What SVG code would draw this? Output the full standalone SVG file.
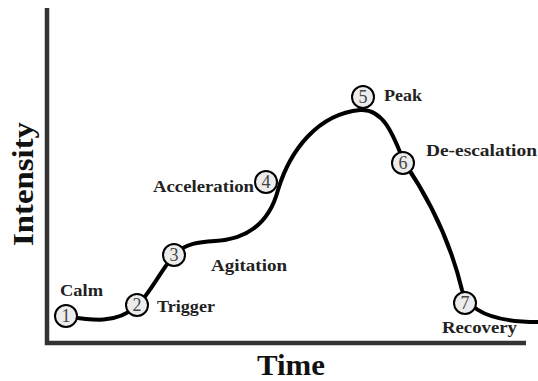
<svg xmlns="http://www.w3.org/2000/svg" width="538" height="381" viewBox="0 0 538 381">
<style>
.axis{stroke:#333;stroke-width:4.5;fill:none;stroke-linecap:butt}
.curve{stroke:#000;stroke-width:4;fill:none;stroke-linecap:round;stroke-linejoin:round}
.node circle{fill:#ececec;stroke:#000;stroke-width:2}
.num{font-family:"Liberation Serif",serif;font-size:18px;fill:#444;text-anchor:middle}
.lbl{font-family:"Liberation Serif",serif;font-weight:bold;font-size:17px;fill:#222}
.title{font-family:"Liberation Serif",serif;font-weight:bold;font-size:29px;fill:#111}
</style>
<rect width="538" height="381" fill="#fff"/>
<g id="axes">
<path class="axis" d="M47,8 V343 H526"/>
<text class="title" x="291" y="375" text-anchor="middle" textLength="68" lengthAdjust="spacingAndGlyphs">Time</text>
<text class="title" transform="translate(33,184) rotate(-90)" text-anchor="middle" textLength="124" lengthAdjust="spacingAndGlyphs">Intensity</text>
</g>
<g id="connectors">
<path class="curve" d="M66,316 C90,320 115,325 137,306 C150,293 160,272 174,255 C185,243 200,242 215,241 C250,239 270,220 278,190 C290,150 318,114 360,110 C385,108 395,140 404,162 C430,200 450,240 462,290 C468,310 490,322 538,322"/>
</g>
<g id="n1" class="node"><circle cx="66" cy="316" r="11"/><text class="num" x="66" y="322">1</text><text class="lbl" x="60" y="296" textLength="43" lengthAdjust="spacingAndGlyphs">Calm</text></g>
<g id="n2" class="node"><circle cx="137" cy="305" r="11"/><text class="num" x="137" y="311">2</text><text class="lbl" x="157" y="312" textLength="58" lengthAdjust="spacingAndGlyphs">Trigger</text></g>
<g id="n3" class="node"><circle cx="174" cy="255" r="11"/><text class="num" x="174" y="261">3</text><text class="lbl" x="211" y="271" textLength="76" lengthAdjust="spacingAndGlyphs">Agitation</text></g>
<g id="n4" class="node"><circle cx="266" cy="182" r="11"/><text class="num" x="266" y="188">4</text><text class="lbl" x="153" y="192" textLength="101" lengthAdjust="spacingAndGlyphs">Acceleration</text></g>
<g id="n5" class="node"><circle cx="363" cy="97" r="11"/><text class="num" x="363" y="103">5</text><text class="lbl" x="384" y="101" textLength="38" lengthAdjust="spacingAndGlyphs">Peak</text></g>
<g id="n6" class="node"><circle cx="403" cy="163" r="11"/><text class="num" x="403" y="169">6</text><text class="lbl" x="426" y="156" textLength="111" lengthAdjust="spacingAndGlyphs">De-escalation</text></g>
<g id="n7" class="node"><circle cx="465" cy="303" r="11"/><text class="num" x="465" y="309">7</text><text class="lbl" x="442" y="333" textLength="75" lengthAdjust="spacingAndGlyphs">Recovery</text></g>
</svg>
